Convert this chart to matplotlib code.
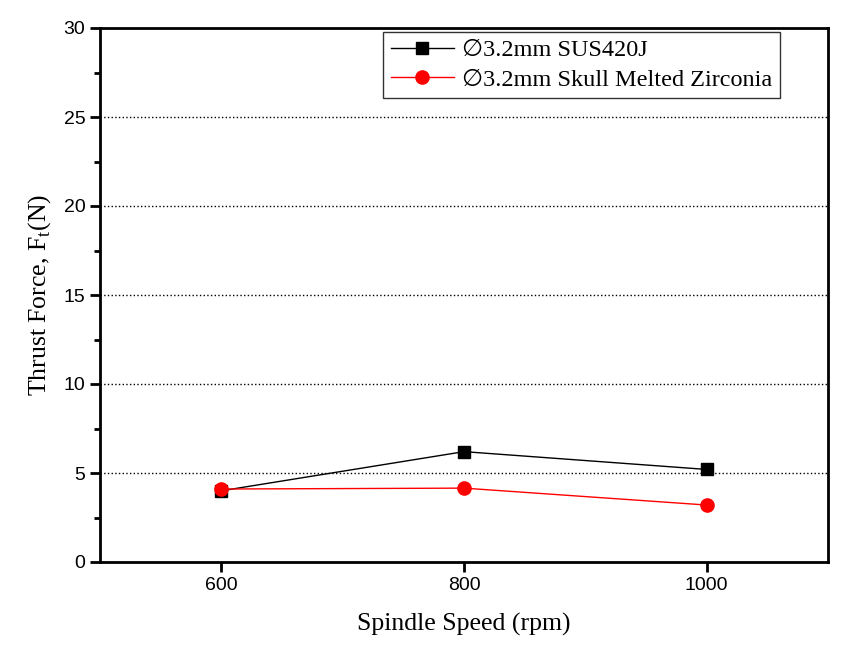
import matplotlib.pyplot as plt
from matplotlib.ticker import MultipleLocator

# Spindle speed (rpm) and thrust force (N)
speed = [600, 800, 1000]
force_sus = [4.0, 6.2, 5.2]
force_zirconia = [4.1, 4.15, 3.2]

label_sus = '\u22053.2mm SUS420J'
label_zirconia = '\u22053.2mm Skull Melted Zirconia'

fig = plt.figure(figsize=(8.53, 6.5), dpi=100)
ax = fig.add_axes([100 / 853, 1 - 562 / 650, 728 / 853, 534 / 650])

ax.plot(speed, force_sus, '-', color='black', linewidth=1, marker='s',
        markersize=8, label=label_sus, zorder=3)
ax.plot(speed, force_zirconia, '-', color='red', linewidth=1, marker='o',
        markersize=9.5, label=label_zirconia, zorder=4)

ax.set_xlim(500, 1100)
ax.set_ylim(0, 30)
ax.set_xticks(speed)
ax.yaxis.set_major_locator(MultipleLocator(5))
ax.yaxis.set_minor_locator(MultipleLocator(2.5))

ax.grid(True, axis='y', which='major', linestyle=':', color='black', linewidth=1)

for s in ax.spines.values():
    s.set_linewidth(2)
ax.tick_params(which='both', direction='out', width=2, top=False, right=False,
               labelsize=14)
ax.tick_params(which='major', length=7)
ax.tick_params(which='minor', length=4)
for t in ax.get_xticklabels() + ax.get_yticklabels():
    t.set_fontfamily('Liberation Sans')

ax.set_xlabel('Spindle Speed (rpm)', fontsize=18.5, family='Liberation Serif', labelpad=14)
ax.set_ylabel('Thrust Force, F$_\\mathregular{t}$(N)', fontsize=18.5,
              family='Liberation Serif', labelpad=8)

leg = ax.legend(loc='upper right', bbox_to_anchor=(0.934, 0.9925),
                prop={'family': ['Liberation Serif', 'DejaVu Sans'], 'size': 17.5},
                frameon=True, fancybox=False, edgecolor='black',
                borderpad=0.3, labelspacing=0.3, handlelength=2.6,
                handletextpad=0.35, borderaxespad=0)
leg.get_frame().set_linewidth(1)

fig.savefig('out.png', dpi=100)
